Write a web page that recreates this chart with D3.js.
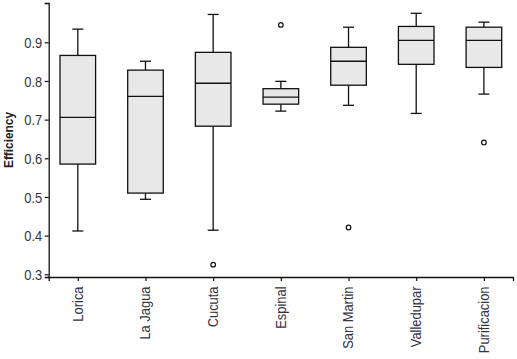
<!DOCTYPE html>
<html><head><meta charset="utf-8">
<script src="https://cdn.jsdelivr.net/npm/d3@7"></script>
<style>
body{margin:0;background:#fff;}
text{font-family:"Liberation Sans",Arial,sans-serif;}
</style></head>
<body><svg id="c" width="517" height="359"></svg>
<script>
const categories = ["Lorica","La Jagua","Cucuta","Espinal","San Martin","Valledupar","Purificacion"];
const whiskerLow  = [0.412, 0.494, 0.414, 0.722, 0.737, 0.716, 0.766];
const q1          = [0.585, 0.510, 0.683, 0.740, 0.789, 0.843, 0.835];
const medians     = [0.706, 0.760, 0.794, 0.758, 0.851, 0.905, 0.905];
const q3          = [0.866, 0.828, 0.874, 0.780, 0.887, 0.941, 0.939];
const whiskerHigh = [0.934, 0.851, 0.972, 0.799, 0.939, 0.975, 0.952];
const outliers    = [[], [], [0.325], [0.945], [0.421], [], [0.641]];
const yTicks = [0.3,0.4,0.5,0.6,0.7,0.8,0.9];
const yLabel = "Efficiency";

(function(){
const svg = d3.select("#c");
const mLeft = 48.7, mRight = 513, mTop = 3, mBottom = 277;
const narrow = 0.89;
const x = d3.scalePoint().domain(categories).range([mLeft, mRight]).padding(0.43);
const y = d3.scaleLinear().domain([0.293, 1.0016]).range([mBottom, mTop]);

const boxW = 35.6, capW = 11;
const data = categories.map((c,i)=>({c, lo:whiskerLow[i], q1:q1[i], med:medians[i], q3:q3[i], hi:whiskerHigh[i], out:outliers[i]}));

const g = svg.append("g");
data.forEach(d=>{
  const cx = x(d.c);
  const gg = g.append("g").attr("stroke","#111").attr("stroke-width",1.3);
  gg.append("line").attr("x1",cx).attr("x2",cx).attr("y1",y(d.hi)).attr("y2",y(d.q3));
  gg.append("line").attr("x1",cx).attr("x2",cx).attr("y1",y(d.q1)).attr("y2",y(d.lo));
  gg.append("line").attr("x1",cx-capW/2).attr("x2",cx+capW/2).attr("y1",y(d.hi)).attr("y2",y(d.hi));
  gg.append("line").attr("x1",cx-capW/2).attr("x2",cx+capW/2).attr("y1",y(d.lo)).attr("y2",y(d.lo));
  gg.append("rect").attr("x",cx-boxW/2).attr("width",boxW).attr("y",y(d.q3)).attr("height",y(d.q1)-y(d.q3)).attr("fill","#e8e8e8");
  gg.append("line").attr("x1",cx-boxW/2).attr("x2",cx+boxW/2).attr("y1",y(d.med)).attr("y2",y(d.med));
  d.out.forEach(o=>{
    gg.append("circle").attr("cx",cx).attr("cy",y(o)).attr("r",2.3).attr("fill","#fff").attr("stroke-width",1.2);
  });
});

const yAxis = svg.append("g").attr("transform",`translate(${mLeft},0)`)
  .call(d3.axisLeft(y).tickValues(yTicks).tickFormat(d3.format(".1f")).tickSizeOuter(0).tickSize(4));
yAxis.select(".domain").attr("stroke","#111").attr("stroke-width",1.3);
yAxis.selectAll(".tick line").attr("stroke","#111").attr("stroke-width",1.2);
yAxis.selectAll(".tick text").attr("font-size",14.5).attr("fill","#333344")
  .attr("transform",`scale(${narrow},1)`).attr("x",-6.5/narrow).attr("dy","0.36em");

const xAxis = svg.append("g").attr("transform",`translate(0,${mBottom})`)
  .call(d3.axisBottom(x).tickSizeOuter(0).tickSize(4));
xAxis.select(".domain").attr("stroke","#111").attr("stroke-width",1.3);
xAxis.selectAll(".tick line").attr("stroke","#111").attr("stroke-width",1.2);
xAxis.selectAll(".tick text").attr("font-size",14.5).attr("fill","#333344")
  .attr("transform",`rotate(-90) scale(${narrow},1)`).attr("text-anchor","end")
  .attr("x",-9.5/narrow).attr("y",0).attr("dy","0.3em");

svg.append("text").attr("transform",`translate(12.5,140) rotate(-90) scale(0.88,1)`).attr("text-anchor","middle")
  .attr("font-size",13.5).attr("font-weight","bold").attr("fill","#222").text(yLabel);
})();
</script></body></html>
